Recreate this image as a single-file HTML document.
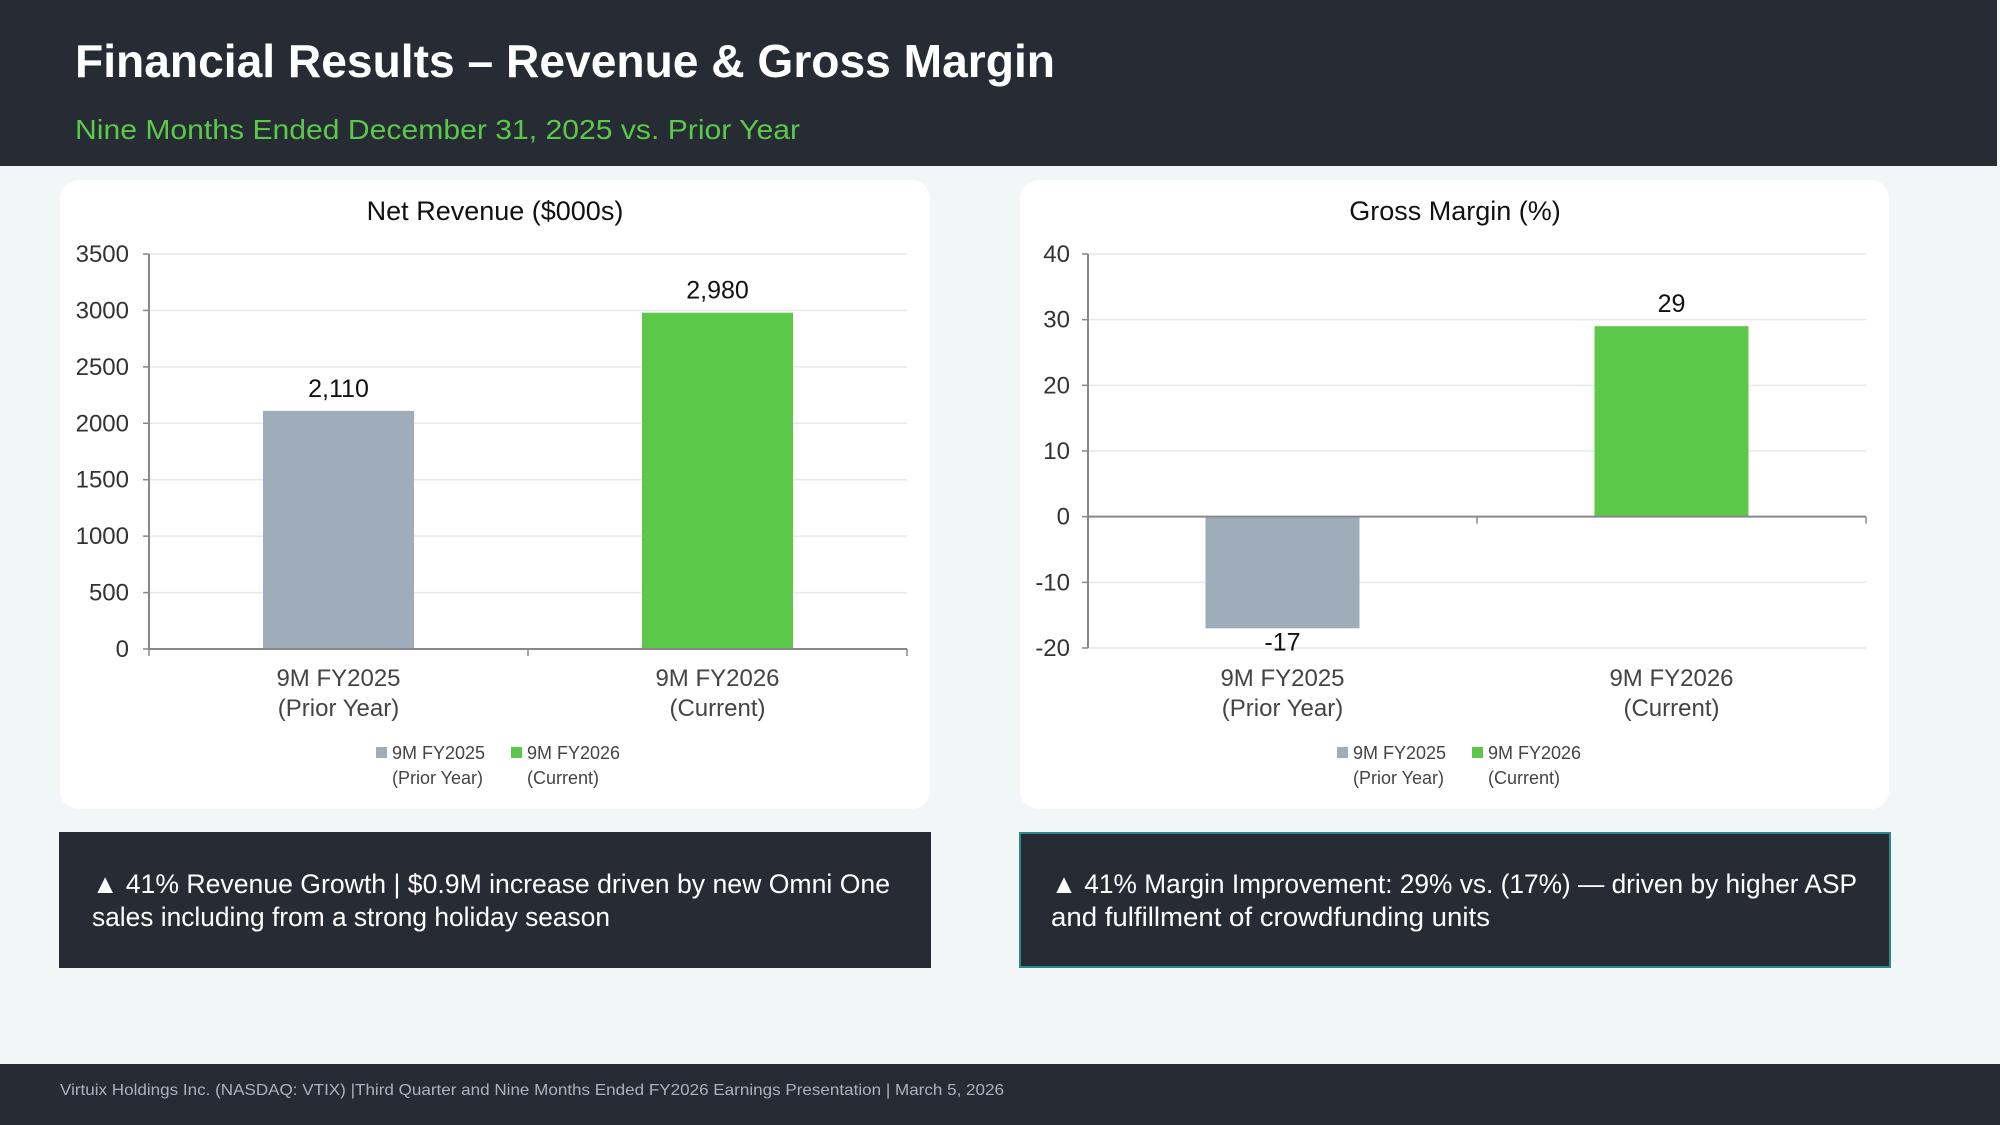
<!DOCTYPE html>
<html><head><meta charset="utf-8"><style>
html,body{margin:0;padding:0;width:2000px;height:1125px;overflow:hidden;background:#f2f6f7}
svg{display:block}
text{font-family:"Liberation Sans",sans-serif}
</style></head><body>
<svg id="s" width="2000" height="1125" viewBox="0 0 2000 1125">
<rect x="0" y="0" width="2000" height="1125" fill="#f2f6f7"/>
<rect x="0" y="0" width="1997" height="166" fill="#272b33"/>
<text x="75" y="77" font-size="46" font-weight="bold" fill="#fff" textLength="980" lengthAdjust="spacingAndGlyphs">Financial Results – Revenue &amp; Gross Margin</text>
<text x="75" y="139" font-size="28" fill="#5bc84a" textLength="725" lengthAdjust="spacingAndGlyphs">Nine Months Ended December 31, 2025 vs. Prior Year</text>
<rect x="60" y="180" width="870" height="629" rx="18" fill="#fff"/>
<rect x="1020" y="180" width="869" height="629" rx="18" fill="#fff"/>
<g id="c1"></g>
<g id="c2"></g>
<rect x="59" y="832" width="872" height="136" fill="#272b33"/>
<text x="92" y="893" font-size="27" fill="#fff" textLength="798" lengthAdjust="spacingAndGlyphs">▲ 41% Revenue Growth | $0.9M increase driven by new Omni One</text>
<text x="92" y="926" font-size="27" fill="#fff" textLength="518" lengthAdjust="spacingAndGlyphs">sales including from a strong holiday season</text>
<rect x="1020" y="833" width="870" height="134" fill="#272b33" stroke="#2a8a8a" stroke-width="2"/>
<text x="1051" y="893" font-size="27" fill="#fff" textLength="806" lengthAdjust="spacingAndGlyphs">▲ 41% Margin Improvement: 29% vs. (17%) — driven by higher ASP</text>
<text x="1051" y="926" font-size="27" fill="#fff" textLength="439" lengthAdjust="spacingAndGlyphs">and fulfillment of crowdfunding units</text>
<rect x="0" y="1064" width="2000" height="61" fill="#272b33"/>
<text x="60" y="1095" font-size="16" fill="#a9b3bb" textLength="944" lengthAdjust="spacingAndGlyphs">Virtuix Holdings Inc. (NASDAQ: VTIX) |Third Quarter and  Nine Months Ended FY2026 Earnings Presentation | March 5, 2026</text>
</svg>
<script>
const categories = ["9M FY2025|(Prior Year)", "9M FY2026|(Current)"];
const revenueValues = [2110, 2980];
const revenueLabels = ["2,110", "2,980"];
const revenueTicks = [0, 500, 1000, 1500, 2000, 2500, 3000, 3500];
const marginValues = [-17, 29];
const marginLabels = ["-17", "29"];
const marginTicks = [-20, -10, 0, 10, 20, 30, 40];
const colors = ["#9eadb9", "#5bc84a"];

const NS = "http://www.w3.org/2000/svg";
function mk(parent, tag, attrs, txt) {
  const e = document.createElementNS(NS, tag);
  for (const k in attrs) e.setAttribute(k, attrs[k]);
  if (txt !== undefined) e.textContent = txt;
  parent.appendChild(e);
  return e;
}
function draw(g, cfg) {
  const {x0, x1, yTop, yBot, min, max, ticks, values, labels, title, titleX, tickRight, barW} = cfg;
  const y = v => yBot - (v - min) / (max - min) * (yBot - yTop);
  const band = (x1 - x0) / categories.length;
  const cx = i => x0 + band * (i + 0.5);
  let t = mk(g, "text", {x: titleX, y: 220, "font-size": 27, fill: "#111", "text-anchor": "middle"}, title);
  
  
  ticks.forEach(v => {
    const l = mk(g, "line", {x1: x0, x2: x1, y1: y(v), y2: y(v), stroke: "#e6e9eb", "stroke-width": 1.5});
    
    
    mk(g, "line", {x1: x0 - 6, x2: x0, y1: y(v), y2: y(v), stroke: "#888", "stroke-width": 1.5});
    const tl = mk(g, "text", {x: tickRight, y: y(v) + 8, "font-size": 24, fill: "#333", "text-anchor": "end"}, String(v));
    
    
  });
  const ax = mk(g, "line", {x1: x0, x2: x0, y1: yTop, y2: yBot, stroke: "#888", "stroke-width": 2});
  
  
  values.forEach((v, i) => {
    const top = Math.min(y(v), y(0)), h = Math.abs(y(v) - y(0));
    const r = mk(g, "rect", {x: cx(i) - barW / 2, y: top, width: barW, height: h, fill: colors[i]});
    
    
    const ly = v >= 0 ? y(v) - 14 : y(v) + 22;
    const dl = mk(g, "text", {x: cx(i), y: ly, "font-size": 25, fill: "#111", "text-anchor": "middle"}, labels[i]);
    
    
    const parts = categories[i].split("|");
    parts.forEach((p, k) => {
      const c = mk(g, "text", {x: cx(i), y: 686 + k * 30, "font-size": 24, fill: "#444", "text-anchor": "middle"}, p);
      
      
    });
  });
  const zl = mk(g, "line", {x1: x0, x2: x1, y1: y(0), y2: y(0), stroke: "#888", "stroke-width": 2});
  
  
  [0, 1, 2].forEach(k => {
    mk(g, "line", {x1: x0 + band * k, x2: x0 + band * k, y1: y(0), y2: y(0) + 7, stroke: "#888", "stroke-width": 1.5});
  });
  const lx = cfg.legendX;
  const leg = [["9M FY2025", "(Prior Year)"], ["9M FY2026", "(Current)"]];
  leg.forEach((L, i) => {
    const bx = lx + i * 135;
    const sq = mk(g, "rect", {x: bx, y: 747, width: 11, height: 11, fill: colors[i]});
    
    
    L.forEach((s, k) => {
      const lt = mk(g, "text", {x: bx + 16, y: 759 + k * 25, "font-size": 18, fill: "#444"}, s);
      
      
    });
  });
}
draw(document.getElementById("c1"), {x0: 149, x1: 907, yTop: 254, yBot: 649, min: 0, max: 3500,
  ticks: revenueTicks, values: revenueValues, labels: revenueLabels, title: "Net Revenue ($000s)",
  titleX: 495, tickRight: 129, barW: 151, legendX: 376});
draw(document.getElementById("c2"), {x0: 1088, x1: 1866, yTop: 254, yBot: 648, min: -20, max: 40,
  ticks: marginTicks, values: marginValues, labels: marginLabels, title: "Gross Margin (%)",
  titleX: 1455, tickRight: 1070, barW: 154, legendX: 1337});
</script>
</body></html>
